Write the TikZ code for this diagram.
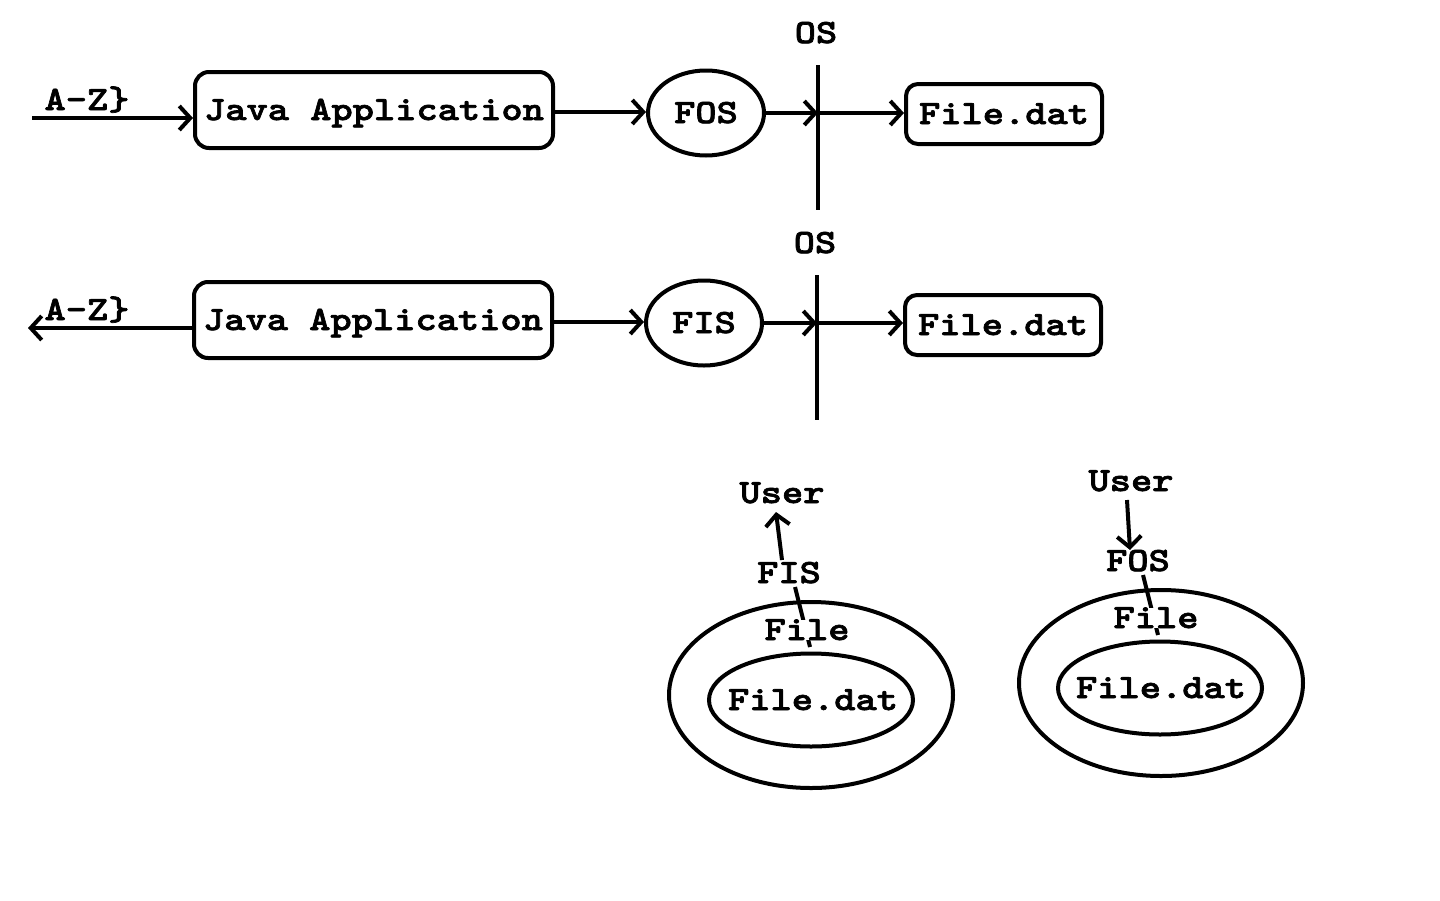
\documentclass[tikz,border=0pt]{standalone}
\usepackage{fontspec}
\newfontfamily\cour{lmmonolt10-bold}[Extension=.otf, FakeStretch=1.19, FakeBold=2]
\usetikzlibrary{arrows.meta,shapes.geometric}
\begin{document}
\begin{tikzpicture}[x=1pt,y=-1pt,
 every node/.style={font=\cour\fontsize{34}{40}\selectfont, inner sep=0pt, text height=20pt, text depth=0pt},
 line/.style={line width=4pt},
 arr/.style={line width=4pt,-{Straight Barb[length=11pt,width=24pt]}},
 appbox/.style={draw,line width=4pt,rounded corners=14pt,minimum width=358pt,minimum height=76pt},
 filebox/.style={draw,line width=4pt,rounded corners=12pt,minimum width=196pt,minimum height=60pt},
 oval/.style={draw,ellipse,line width=4pt,minimum width=116pt,minimum height=85pt},
 outer/.style={draw,ellipse,line width=4pt,minimum width=284pt,minimum height=186pt},
 inner/.style={draw,ellipse,line width=4pt,minimum width=204pt,minimum height=93pt},
 cover/.style={fill=white}]
\useasboundingbox[fill=white] (0,0) rectangle (1440,900);

% ---- Row 1 ----
\node[appbox] (j1) at (374,110) {Java Application};
\node (az1) at (87,100) {A-Z\}};
\coordinate (s1) at (32,118);
\draw[arr] (s1) -- (j1.west |- s1);
\node[oval] (fos) at (706,113) {FOS};
\draw[arr] (j1.east |- 0,112) -- (fos.west |- 0,112);
\coordinate (os1t) at (818,65);
\coordinate (os1b) at (818,210);
\draw[line] (os1t) -- (os1b);
\node (os1) at (816,33) {OS};
\node[filebox] (fd1) at (1004,114) {File.dat};
\coordinate (m1) at (818,113);
\draw[arr] (fos.east) -- (m1);
\draw[arr] (m1) -- (fd1.west |- m1);

% ---- Row 2 ----
\node[appbox] (j2) at (373,320) {Java Application};
\node (az2) at (87,310) {A-Z\}};
\coordinate (s2) at (28,328);
\draw[arr] (j2.west |- s2) -- (s2);
\node[oval] (fis) at (704,323) {FIS};
\draw[arr] (j2.east |- 0,322) -- (fis.west |- 0,322);
\coordinate (os2t) at (817,275);
\coordinate (os2b) at (817,420);
\draw[line] (os2t) -- (os2b);
\node (os2) at (815,243) {OS};
\node[filebox] (fd2) at (1003,325) {File.dat};
\coordinate (m2) at (817,323);
\draw[arr] (fis.east) -- (m2);
\draw[arr] (m2) -- (fd2.west |- m2);

% ---- Bottom left: FIS ----
\node[outer] (outL) at (811,695) {};
\node[inner] (inL) at (811,700) {};
\node (fdL) at (813,700) {File.dat};
\node (userL) at (782,493) {User};
\node (fisL) at (789,573) {FIS};
\coordinate (fisLt) at (782,560);
\coordinate (userLb) at (776,512);
\draw[arr] (fisLt) -- (userLb);
\coordinate (fisLb) at (795,587);
\coordinate (inLt) at (810,647);
\draw[line] (fisLb) -- (inLt);
\node[cover] (fileL) at (807,630) {File};

% ---- Bottom right: FOS ----
\node[outer] (outR) at (1161,683) {};
\node[inner] (inR) at (1160,688) {};
\node (fdR) at (1161,688) {File.dat};
\node (userR) at (1131,481) {User};
\node (fosR) at (1138,561) {FOS};
\coordinate (userRb) at (1127,500);
\coordinate (fosRt) at (1130,550);
\draw[arr] (userRb) -- (fosRt);
\coordinate (fosRb) at (1143,575);
\coordinate (inRt) at (1158,635);
\draw[line] (fosRb) -- (inRt);
\node[cover] (fileR) at (1156,618) {File};
\end{tikzpicture}
\end{document}
